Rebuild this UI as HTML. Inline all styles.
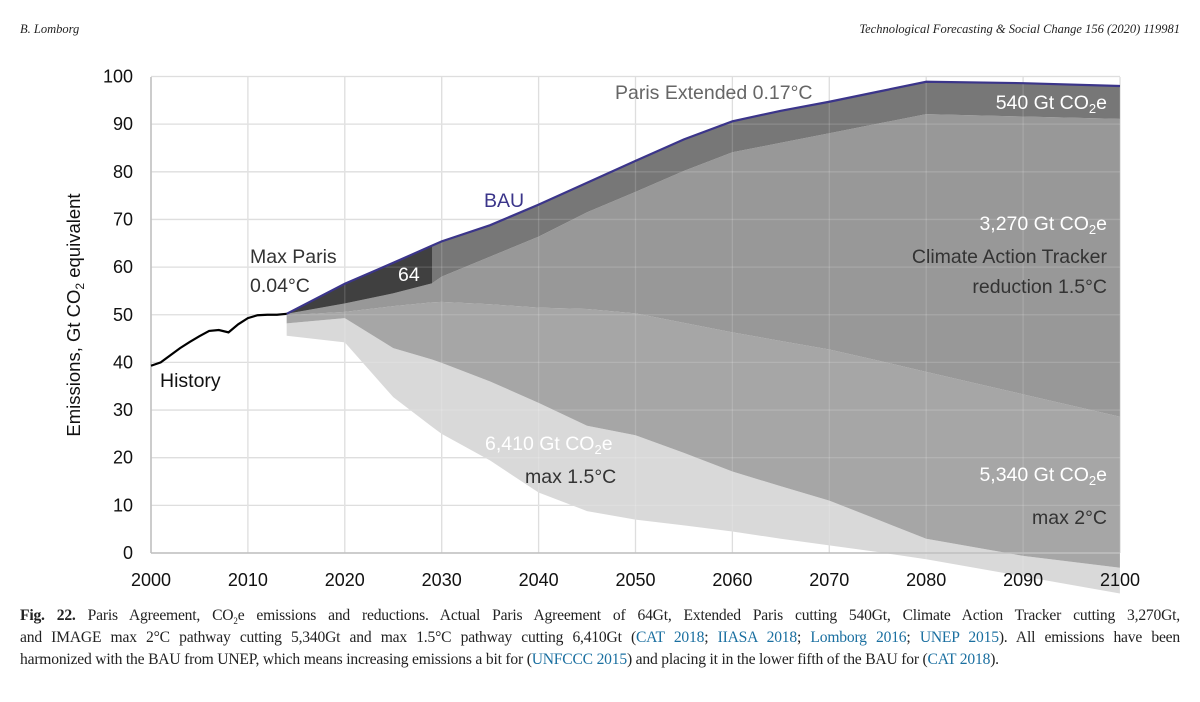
<!DOCTYPE html>
<html><head><meta charset="utf-8"><style>
body{margin:0;background:#fff;width:1200px;height:702px;overflow:hidden;font-family:"Liberation Sans",sans-serif}
svg{position:absolute;left:0;top:0}
.hdr{position:absolute;top:22px;font:italic 12.5px "Liberation Serif",serif;color:#222}
.cl{position:absolute;left:20px;width:1160px;font:15.6px "Liberation Serif",serif;color:#222;text-align:justify;text-align-last:justify;white-space:nowrap;letter-spacing:-0.2px}
.cl a{color:#1a6fa0;text-decoration:none}
</style></head><body>
<div class="hdr" style="left:20px">B. Lomborg</div>
<div class="hdr" style="right:20px">Technological Forecasting &amp; Social Change 156 (2020) 119981</div>
<svg id="chart" width="1200" height="702"></svg>
<div>
<div class="cl" style="top:607px"><b>Fig. 22.</b> Paris Agreement, CO<sub style="font-size:9px">2</sub>e emissions and reductions. Actual Paris Agreement of 64Gt, Extended Paris cutting 540Gt, Climate Action Tracker cutting 3,270Gt,</div>
<div class="cl" style="top:629px">and IMAGE max 2°C pathway cutting 5,340Gt and max 1.5°C pathway cutting 6,410Gt (<a>CAT 2018</a>; <a>IIASA 2018</a>; <a>Lomborg 2016</a>; <a>UNEP 2015</a>). All emissions have been</div>
<div class="cl" style="top:651px;text-align-last:left;width:auto">harmonized with the BAU from UNEP, which means increasing emissions a bit for (<a>UNFCCC 2015</a>) and placing it in the lower fifth of the BAU for (<a>CAT 2018</a>).</div>
</div>
<script>
const histYears=[2000,2001,2002,2003,2004,2005,2006,2007,2008,2009,2010,2011,2012,2013,2014];
const histVals=[39.3,40,41.5,43,44.3,45.5,46.6,46.8,46.3,48,49.3,49.9,50,50,50.2];
const years=[2014,2020,2025,2029,2030,2035,2040,2045,2050,2055,2060,2065,2070,2075,2080,2090,2100];
const bau=[50.2,56.5,60.9,64.5,65.4,68.8,73.1,77.7,82.3,86.8,90.6,92.8,94.7,96.8,98.9,98.6,98];
const parisExtLower=[50.2,52.4,54.5,56.6,58,62.2,66.4,71.5,75.8,80.2,84.1,86.1,88.1,90.1,92.1,91.6,91.1];
const catLower=[49.9,50.6,51.8,52.6,52.7,52.2,51.5,51.2,50.3,48.3,46.3,44.5,42.7,40.4,38,33.3,28.6];
const twoLower=[48.2,49.3,43,40.6,39.9,36,31.5,26.7,24.7,21,17.1,14,11,7,3,-0.6,-3.1];
const oneFiveLower=[45.6,44.2,32.7,26.5,25,19.4,12.7,8.8,7,5.8,4.5,3,1.6,0.2,-1.3,-4.9,-8.5];
const wedgeYears=[2014,2020,2025,2029];
const wedgeLower=[50.2,52.4,54.5,56.6];
const yTicks=[0,10,20,30,40,50,60,70,80,90,100];
const xTicks=[2000,2010,2020,2030,2040,2050,2060,2070,2080,2090,2100];

const X=y=>151+(y-2000)*9.69;
const Y=v=>553-v*4.765;
const svg=document.getElementById('chart');
const NS='http://www.w3.org/2000/svg';
function mk(t,a){const e=document.createElementNS(NS,t);for(const k in a)e.setAttribute(k,a[k]);svg.appendChild(e);return e;}
function band(xs,top,bot){let d='M'+xs.map((x,i)=>X(x)+','+Y(top[i])).join('L');for(let i=xs.length-1;i>=0;i--)d+='L'+X(xs[i])+','+Y(bot[i]);return d+'Z';}
yTicks.forEach(v=>{const l=mk('line',{x1:151,x2:1120,y1:Y(v),y2:Y(v),stroke:'#d9d9d9','stroke-width':1.3});

const t=mk('text',{x:133,y:Y(v)+6,'text-anchor':'end','font-size':18,fill:'#111'});t.textContent=v;
});
xTicks.forEach(v=>{const l=mk('line',{x1:X(v),x2:X(v),y1:77,y2:553,stroke:'#d9d9d9','stroke-width':1.3});
});
const areas=[[oneFiveLower,twoLower,'#d9d9d9','area-max-1-5c'],[twoLower,catLower,'#a6a6a6','area-max-2c'],[catLower,parisExtLower,'#989898','area-cat-reduction'],[parisExtLower,bau,'#777','area-paris-extended']];
areas.forEach(a=>{const p=mk('path',{d:band(years,a[1],a[0]),fill:a[2]});
});
const wTop=wedgeYears.map(y=>bau[years.indexOf(y)]);
const w=mk('path',{d:band(wedgeYears,wTop,wedgeLower),fill:'#404040'});

yTicks.forEach(v=>{const l=mk('line',{x1:151,x2:1120,y1:Y(v),y2:Y(v),stroke:'#fff','stroke-opacity':0.15,'stroke-width':1.3});
});
xTicks.forEach(v=>{const l=mk('line',{x1:X(v),x2:X(v),y1:77,y2:Y(-9),stroke:'#fff','stroke-opacity':0.15,'stroke-width':1.3});
});
let a1=mk('line',{x1:151,x2:151,y1:77,y2:553,stroke:'#bfbfbf','stroke-width':1.5});
let a2=mk('line',{x1:151,x2:1120,y1:553,y2:553,stroke:'#bfbfbf','stroke-width':1.5});
const bl=mk('polyline',{points:years.map((y,i)=>X(y)+','+Y(bau[i])).join(' '),fill:'none',stroke:'#3b358a','stroke-width':2.2});

const hl=mk('polyline',{points:histYears.map((y,i)=>X(y)+','+Y(histVals[i])).join(' '),fill:'none',stroke:'#000','stroke-width':2.2});

xTicks.forEach(v=>{const t=mk('text',{x:X(v),y:586,'text-anchor':'middle','font-size':18,fill:'#111'});t.textContent=v;
});
const yt=mk('text',{x:0,y:0,'font-size':18.5,fill:'#111','text-anchor':'middle',transform:'translate(80,315) rotate(-90)'});
yt.innerHTML='Emissions, Gt CO<tspan font-size="12" dy="4">2</tspan><tspan dy="-4"> equivalent</tspan>';

const labels=[
['Paris Extended 0.17°C',615,99,'#666','start','label-paris-extended'],
['540 Gt CO<tspan font-size="13" dy="4">2</tspan><tspan dy="-4">e</tspan>',1107,109,'#fff','end','label-540'],
['BAU',484,207,'#3b358a','start','label-bau'],
['3,270 Gt CO<tspan font-size="13" dy="4">2</tspan><tspan dy="-4">e</tspan>',1107,230,'#fff','end','label-3270'],
['Climate Action Tracker',1107,263,'#333','end','label-cat'],
['reduction 1.5°C',1107,293,'#333','end','label-cat-reduction'],
['Max Paris',250,263,'#333','start','label-max-paris'],
['0.04°C',250,292,'#333','start','label-max-paris-temp'],
['64',398,281,'#fff','start','label-64'],
['History',160,387,'#111','start','label-history'],
['6,410 Gt CO<tspan font-size="13" dy="4">2</tspan><tspan dy="-4">e</tspan>',485,450,'#fff','start','label-6410'],
['max 1.5°C',525,483,'#333','start','label-max-1-5'],
['5,340 Gt CO<tspan font-size="13" dy="4">2</tspan><tspan dy="-4">e</tspan>',1107,481,'#fff','end','label-5340'],
['max 2°C',1107,524,'#333','end','label-max-2']];
labels.forEach(l=>{const t=mk('text',{x:l[1],y:l[2],'font-size':19.5,fill:l[3],'text-anchor':l[4]});t.innerHTML=l[0];
});
</script>
</body></html>
